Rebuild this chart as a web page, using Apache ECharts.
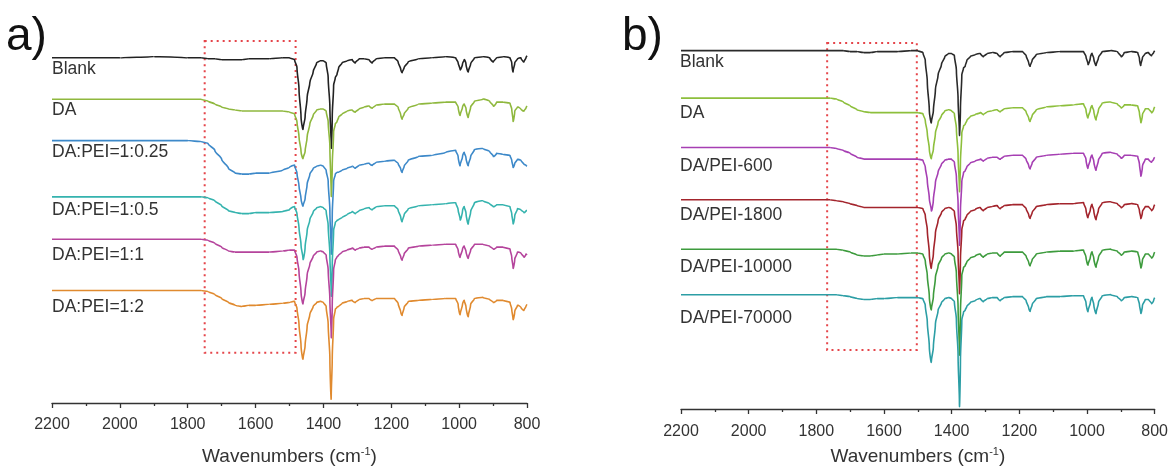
<!DOCTYPE html>
<html>
<head>
<meta charset="utf-8">
<script src="https://cdn.jsdelivr.net/npm/echarts@6/dist/echarts.min.js"></script>
<style>
html,body{margin:0;padding:0;background:#fff;}
#chart{width:1171px;height:474px;}
</style>
</head>
<body>
<div id="chart"></div>
<script>
// Shared wavenumber grid (cm^-1)
var wavenumbers = [2200,2100,2000,1900,1800,1760,1740,1720,1700,1680,
  1660,1640,1620,1600,1560,1520,1500,1485,1478,1472,
  1466,1460,1454,1448,1440,1430,1420,1410,1400,1392,
  1386,1381,1377,1374,1370,1365,1360,1355,1345,1330,
  1315,1306,1295,1280,1265,1256,1245,1220,1190,1180,
  1172,1168,1162,1150,1120,1080,1040,1010,1003,997,
  990,985,980,973,966,955,930,910,899,890,
  870,850,845,841,836,828,818,809,803,800];

var xTicks = [2200,2000,1800,1600,1400,1200,1000,800];

// Panel a names and offset transmittance values (a.u.)
var namesA = ['Blank','DA','DA:PEI=1:0.25','DA:PEI=1:0.5','DA:PEI=1:1','DA:PEI=1:2'];
var a_blank = [350,350,350,351,350,350,349,349,348,348,
  348,348,349,349,349,350,350,348,340,318,
  290,278,290,310,325,336,345,347,347,345,
  330,300,260,290,322,330,333,340,345,347,
  348,345,349,349,348,345,349,350,350,346,
  338,335,340,346,349,350,351,350,345,338,
  344,348,344,336,344,350,351,350,346,350,
  351,350,345,336,345,349,350,346,350,352];
var a_da = [308,308,308,308,308,308,306,303,300,298,
  297,296,296,296,296,296,295,293,285,270,
  255,248,255,270,283,292,297,298,298,296,
  285,260,211,240,275,283,285,290,293,296,
  297,295,298,300,301,299,302,303,303,300,
  292,288,293,299,303,304,305,305,300,292,
  300,303,299,290,300,306,308,306,301,305,
  305,304,298,286,296,300,298,296,299,301];
var a_025 = [266,266,266,266,266,265,263,256,247,238,
  233,232,232,233,233,236,239,241,233,220,
  207,200,207,222,232,238,240,241,240,236,
  225,195,153,190,225,232,234,234,236,238,
  240,238,241,242,243,241,244,245,246,243,
  237,234,240,246,250,251,254,256,250,241,
  250,254,249,241,250,257,258,255,250,253,
  252,251,246,239,243,247,246,242,241,240];
var a_05 = [209,209,209,209,209,209,208,205,200,195,
  193,192,192,193,193,194,196,199,192,178,
  160,146,158,175,186,194,198,199,198,195,
  180,150,110,140,175,183,185,186,188,191,
  194,192,195,197,198,196,199,200,200,196,
  188,184,191,197,200,201,202,203,196,186,
  195,199,193,182,194,203,205,202,199,201,
  201,199,192,182,190,197,196,193,195,195];
var a_1 = [166,166,166,166,166,166,165,162,158,154,
  153,153,153,153,153,154,155,155,148,133,
  112,101,112,130,141,149,153,154,153,150,
  135,105,68,100,135,145,148,150,153,155,
  157,155,157,158,158,156,158,159,159,155,
  148,145,151,157,159,160,161,161,155,148,
  156,159,154,147,155,161,161,159,156,158,
  158,156,148,137,146,153,152,148,151,150];
var a_2 = [114,114,114,114,114,114,113,110,106,102,
  99,98,99,99,100,101,102,103,96,80,
  58,45,58,78,90,98,102,103,102,98,
  80,45,6,45,85,95,97,98,101,103,
  104,102,105,106,106,104,106,106,106,101,
  92,89,97,103,104,105,106,106,100,90,
  100,104,98,88,100,106,107,105,102,104,
  104,102,95,85,93,99,97,94,98,100];

// Panel b
var namesB = ['Blank','DA','DA/PEI-600','DA/PEI-1800','DA/PEI-10000','DA/PEI-70000'];
var b_blank = [370,370,370,370,370,370,370,370,369,369,
  368,368,369,369,369,370,370,368,360,338,
  308,296,308,330,345,356,364,367,367,365,
  350,320,284,310,345,352,354,360,364,366,
  367,364,367,368,367,364,368,369,369,365,
  357,354,360,366,368,369,369,369,364,356,
  363,367,362,355,363,369,370,369,364,368,
  369,368,362,355,363,367,368,365,368,370];
var b_da = [321,321,321,321,321,321,320,317,313,309,
  307,306,306,306,306,306,306,305,298,285,
  268,259,268,285,296,303,308,309,308,305,
  290,262,226,255,285,292,294,298,302,304,
  306,304,307,308,309,307,310,311,311,307,
  300,297,303,309,312,313,314,315,309,301,
  309,313,308,299,309,316,317,315,311,314,
  314,313,306,296,304,310,310,306,309,312];
var b_600 = [270,270,270,270,270,270,269,267,264,260,
  258,258,258,258,258,258,258,257,250,236,
  217,205,216,234,245,253,257,258,258,255,
  240,212,171,205,235,244,246,250,254,256,
  258,256,259,260,260,258,261,262,262,258,
  251,248,254,260,262,263,264,264,258,249,
  258,262,256,247,257,264,265,263,259,262,
  262,261,253,241,251,258,258,255,258,260];
var b_1800 = [216,216,216,216,216,216,215,214,212,210,
  208,208,208,208,208,208,208,207,200,185,
  160,146,160,182,195,203,207,208,207,204,
  188,160,121,155,185,194,196,200,204,206,
  208,205,208,209,210,207,210,211,211,207,
  200,197,203,209,211,212,212,213,206,198,
  206,211,205,196,206,213,214,212,208,211,
  212,211,205,197,204,209,209,205,208,211];
var b_10000 = [165,165,165,165,165,165,165,164,162,159,
  158,158,159,160,160,161,161,160,153,138,
  116,103,116,136,148,156,160,161,160,157,
  140,105,58,100,138,146,148,152,156,158,
  160,157,160,161,161,158,162,162,162,158,
  151,148,154,160,162,163,163,164,157,149,
  157,162,156,147,157,164,165,163,159,162,
  163,162,155,146,154,160,160,156,159,162];
var b_70000 = [118,118,118,118,118,118,118,117,116,114,
  113,113,114,114,115,115,115,114,107,90,
  64,49,64,88,102,110,114,115,114,111,
  92,55,5,50,92,100,102,106,110,112,
  114,111,114,115,115,112,115,116,116,112,
  104,101,108,114,116,116,117,117,110,101,
  110,115,108,99,110,117,118,116,112,115,
  116,115,108,99,107,113,113,109,112,115];

// Highlight regions (wavenumber range, transmittance range)
var boxA = {x: [1750, 1482], y: [367, 51]};
var boxB = {x: [1768, 1503], y: [378, 61]};

var colorsA = ['#222222','#8fb83e','#3d89c9','#35b3ae','#b5449c','#e08a2f'];
var colorsB = ['#2a2a2a','#8dbf3c','#a63fb3','#a3242c','#3d9b3d','#2c9ea5'];
var valsA = [a_blank,a_da,a_025,a_05,a_1,a_2];
var valsB = [b_blank,b_da,b_600,b_1800,b_10000,b_70000];

var FONT = '"Liberation Sans", Arial, sans-serif';

function toData(vals){ return wavenumbers.map(function(w,i){ return [w, vals[i]]; }); }

function makeSeries(vals, names, colors, idx, box){
  return vals.map(function(v,k){
    var s = {
      name: names[k], type: 'line', xAxisIndex: idx, yAxisIndex: idx,
      data: toData(v), showSymbol: false, symbol: 'none',
      smooth: 0.3, smoothMonotone: 'y',
      lineStyle: {color: colors[k], width: 1.6}, silent: true, z: 2 + k
    };
    if (k === 0) {
      s.markArea = {
        silent: true,
        itemStyle: {color: 'rgba(0,0,0,0)', borderColor: '#e5454a', borderWidth: 2, borderType: [2, 4]},
        data: [[{coord: [box.x[0], box.y[0]]}, {coord: [box.x[1], box.y[1]]}]]
      };
    }
    return s;
  });
}

function xAxisOf(idx, margin, nameGap){
  return {
    gridIndex: idx, type: 'value', inverse: true, min: 800, max: 2200, interval: 200,
    axisLine: {show: true, onZero: false, lineStyle: {color: '#333', width: 1.3}},
    axisTick: {show: true, length: 5, lineStyle: {color: '#333', width: 1.3}},
    minorTick: {show: true, splitNumber: 2, length: 3, lineStyle: {color: '#333', width: 1.3}},
    splitLine: {show: false},
    axisLabel: {fontSize: 16, color: '#333', margin: margin, fontFamily: FONT, showMinLabel: true, showMaxLabel: true,
      formatter: function(v){ return String(v); }},
    name: 'Wavenumbers (cm{sup|-1})', nameLocation: 'middle', nameGap: nameGap,
    nameTextStyle: {fontSize: 19, color: '#333', fontFamily: FONT, lineHeight: 22,
      rich: {sup: {fontSize: 11, color: '#333', fontFamily: FONT, verticalAlign: 'top', lineHeight: 22, padding: [0,0,12,0]}}}
  };
}

function labelGraphics(names, left, tops){
  return names.map(function(n,i){
    return {type: 'text', left: left, top: tops[i], silent: true,
      style: {text: n, fill: '#333', font: '17.5px ' + FONT}};
  });
}

var option = {
  animation: false,
  backgroundColor: '#fff',
  grid: [
    {left: 52, right: 644, top: 40, bottom: 66},
    {left: 681, right: 14, top: 40, bottom: 53}
  ],
  xAxis: [xAxisOf(0, 14, 43), xAxisOf(1, 15, 37)],
  yAxis: [
    {gridIndex: 0, type: 'value', min: 0, max: 368, show: false},
    {gridIndex: 1, type: 'value', min: 0, max: 381, show: false}
  ],
  series: makeSeries(valsA, namesA, colorsA, 0, boxA).concat(makeSeries(valsB, namesB, colorsB, 1, boxB)),
  graphic: [
    {type: 'text', left: 6, top: 14, silent: true, style: {text: 'a)', fill: '#111', font: '46px ' + FONT}},
    {type: 'text', left: 622, top: 14, silent: true, style: {text: 'b)', fill: '#111', font: '46px ' + FONT}}
  ].concat(labelGraphics(namesA, 52, [60, 101, 143, 201, 246, 298]))
   .concat(labelGraphics(namesB, 680, [53, 104, 157, 206, 258, 309]))
};

var chart = echarts.init(document.getElementById('chart'), null, {renderer: 'canvas'});
chart.setOption(option);
</script>
</body>
</html>
